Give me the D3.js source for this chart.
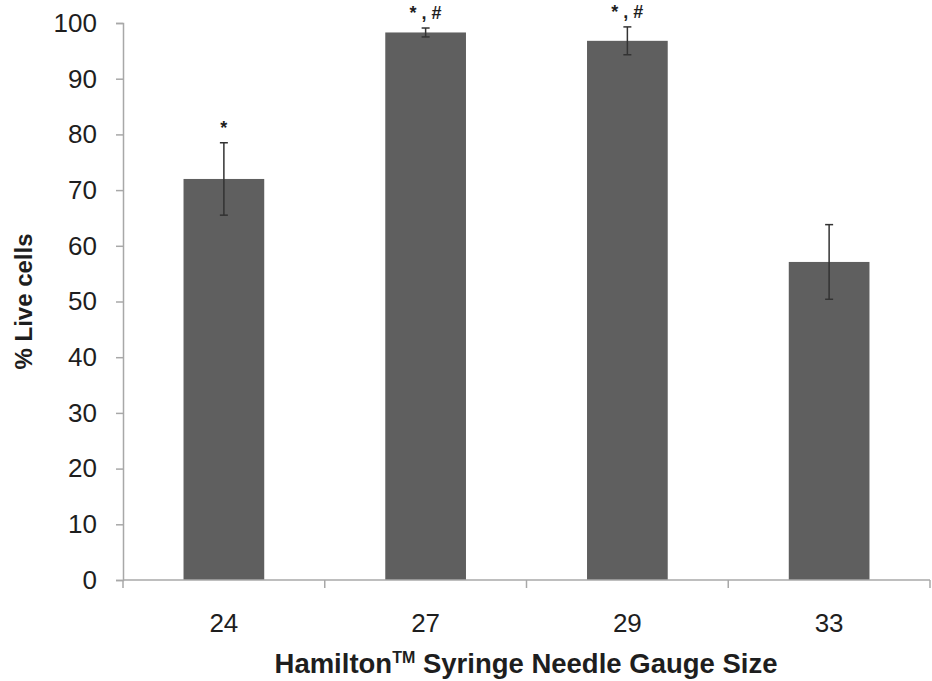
<!DOCTYPE html>
<html>
<head>
<meta charset="utf-8">
<script src="https://cdn.jsdelivr.net/npm/d3@7"></script>
<style>
  body { margin: 0; background: #fff; }
  text { font-family: "Liberation Sans", Arial, sans-serif; }
</style>
</head>
<body>
<svg id="chart" width="932" height="681"></svg>
<script>
const gauges = ["24", "27", "29", "33"]
const liveCells = [72.0, 98.3, 96.8, 57.1]
const errors = [6.5, 0.8, 2.5, 6.7]
const marks = ["*", "* , #", "* , #", ""]
const yTicks = [0, 10, 20, 30, 40, 50, 60, 70, 80, 90, 100]

const svg = d3.select("#chart")
const plotLeft = 123, plotRight = 930, plotTop = 23, plotBottom = 580

const x = d3.scaleBand().domain(gauges).range([plotLeft, plotRight]).paddingInner(0.6).paddingOuter(0.3)
const xCat = d3.scaleBand().domain(gauges).range([plotLeft, plotRight])
const y = d3.scaleLinear().domain([0, 100]).range([plotBottom, plotTop])

const axisColor = "#a8a8a8"
const textColor = "#1e1e1e"

// y axis
let yAxis = svg.append("g")
  .attr("transform", `translate(${plotLeft},0)`)
  .call(d3.axisLeft(y).tickValues(yTicks).tickSize(7).tickPadding(19))
yAxis.select(".domain").attr("stroke", axisColor).attr("stroke-width", 1.5)
yAxis.selectAll(".tick line").attr("stroke", axisColor).attr("stroke-width", 1.5)
yAxis.selectAll("text").attr("font-size", 26).attr("fill", textColor)
  .attr("font-family", "Liberation Sans, Arial, sans-serif")

// bars
svg.selectAll("rect.bar")
  .data(liveCells)
  .join("rect")
  .attr("class", "bar")
  .attr("x", (d, i) => x(gauges[i]))
  .attr("width", x.bandwidth())
  .attr("y", d => y(d))
  .attr("height", d => y(0) - y(d))
  .attr("fill", "#5f5f5f")

// x axis baseline + ticks between categories
svg.append("line")
  .attr("x1", plotLeft).attr("x2", plotRight)
  .attr("y1", y(0)).attr("y2", y(0))
  .attr("stroke", axisColor).attr("stroke-width", 1.5)

let bounds = gauges.map(g => xCat(g)).concat([plotRight])
svg.selectAll("line.xtick")
  .data(bounds)
  .join("line")
  .attr("class", "xtick")
  .attr("x1", d => d).attr("x2", d => d)
  .attr("y1", y(0)).attr("y2", y(0) + 8)
  .attr("stroke", axisColor).attr("stroke-width", 1.5)

svg.selectAll("text.xlab")
  .data(gauges)
  .join("text")
  .attr("class", "xlab")
  .attr("x", d => xCat(d) + xCat.bandwidth() / 2)
  .attr("y", 632)
  .attr("text-anchor", "middle")
  .attr("font-size", 26)
  .attr("fill", textColor)
  .text(d => d)

// error bars
let eb = svg.selectAll("g.err")
  .data(liveCells)
  .join("g")
  .attr("class", "err")
  .attr("transform", (d, i) => `translate(${x(gauges[i]) + x.bandwidth() / 2},0)`)

eb.append("line")
  .attr("y1", (d, i) => y(d + errors[i]))
  .attr("y2", (d, i) => y(d - errors[i]))
  .attr("stroke", "#333").attr("stroke-width", 1.5)
eb.append("line")
  .attr("x1", -4).attr("x2", 4)
  .attr("y1", (d, i) => y(d + errors[i]))
  .attr("y2", (d, i) => y(d + errors[i]))
  .attr("stroke", "#333").attr("stroke-width", 1.5)
eb.append("line")
  .attr("x1", -4).attr("x2", 4)
  .attr("y1", (d, i) => y(d - errors[i]))
  .attr("y2", (d, i) => y(d - errors[i]))
  .attr("stroke", "#333").attr("stroke-width", 1.5)

// significance marks
svg.selectAll("text.sig")
  .data(marks)
  .join("text")
  .attr("class", "sig")
  .attr("x", (d, i) => x(gauges[i]) + x.bandwidth() / 2)
  .attr("y", (d, i) => y(liveCells[i] + errors[i]) - 9)
  .attr("text-anchor", "middle")
  .attr("font-size", 18)
  .attr("font-weight", "bold")
  .attr("fill", textColor)
  .text(d => d)

// axis titles
svg.append("text")
  .attr("transform", `translate(32,${(plotTop + plotBottom) / 2}) rotate(-90)`)
  .attr("text-anchor", "middle")
  .attr("font-size", 24)
  .attr("font-weight", "bold")
  .attr("fill", textColor)
  .text("% Live cells")

let xt = svg.append("text")
  .attr("x", 526)
  .attr("y", 673)
  .attr("text-anchor", "middle")
  .attr("font-size", 27.5)
  .attr("font-weight", "bold")
  .attr("fill", textColor)
xt.append("tspan").text("Hamilton")
xt.append("tspan").attr("font-size", 16).attr("dy", -10).text("TM")
xt.append("tspan").attr("dy", 10).text(" Syringe Needle Gauge Size")
</script>
</body>
</html>
